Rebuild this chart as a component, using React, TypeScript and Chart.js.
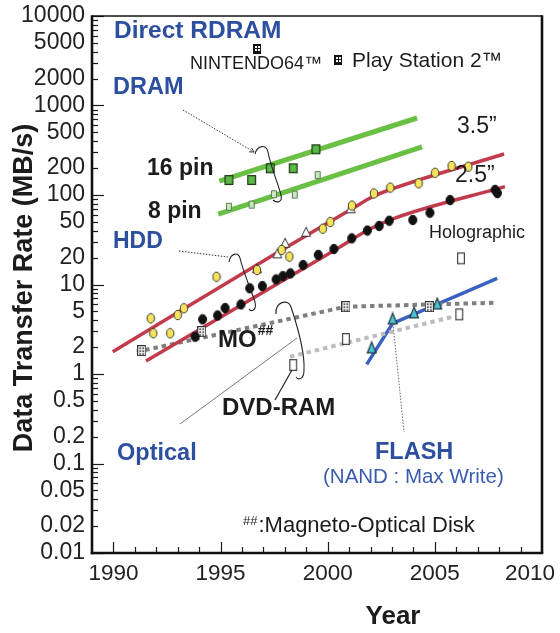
import { useEffect, useRef } from "react";
import { Chart, registerables } from "chart.js";

Chart.register(...registerables);

const FONT = '"Liberation Sans", Arial, Helvetica, sans-serif';
const BLUE = "#2d4f9f";
const INK = "#1c1c1c";

const xTickLabels = [1990, 1995, 2000, 2005, 2010];
const yTickLabels = [0.01, 0.02, 0.05, 0.1, 0.2, 0.5, 1, 2, 5, 10, 20, 50, 100, 200, 500, 1000, 2000, 5000, 10000];

// DRAM
const dram16Years = [1995.39, 1996.45, 1997.32, 1998.39, 1999.45];
const dram16Rates = [147, 147, 199, 199, 324];
const dram8Years = [1995.39, 1996.45, 1997.49, 1998.46, 1999.53];
const dram8Rates = [74, 78, 102, 101, 167];
const dram16TrendYears = [1994.94, 2004.17];
const dram16TrendRates = [143, 725];
const dram8TrendYears = [1994.89, 2004.4];
const dram8TrendRates = [61, 344];

// Direct RDRAM (NINTENDO64, Play Station 2)
const rdramYears = [1996.7, 2000.48];
const rdramRates = [4280, 3220];

// HDD 3.5"
const hdd35Years = [1991.74, 1991.86, 1992.65, 1993.0, 1993.29, 1994.81, 1996.7, 1997.85, 1998.21, 1999.77, 2000.12, 2001.13, 2002.16, 2002.92, 2004.24, 2005.01, 2005.78, 2006.56];
const hdd35Rates = [4.19, 2.85, 2.85, 4.56, 5.42, 12.2, 14.5, 24.3, 20.5, 42.0, 49.9, 76.3, 104, 121, 135, 177, 211, 207];
const hddTriYears = [1996.7, 1997.65, 1998.01, 1998.99, 2001.07];
const hddTriRates = [15.2, 22.3, 29.3, 38.9, 71.0];
const hdd35TrendYears = [1989.97, 1997.54, 2001.04, 2002.07, 2003.14, 2008.23];
const hdd35TrendRates = [1.77, 21.9, 67.9, 95.0, 120, 287];

// HDD 2.5"
const hdd25Years = [1993.81, 1994.16, 1994.86, 1995.21, 1995.95, 1996.36, 1996.95, 1997.59, 1997.91, 1998.26, 1998.85, 1999.56, 2000.29, 2001.12, 2001.85, 2002.4, 2002.87, 2003.97, 2004.77, 2005.71, 2007.81, 2007.92];
const hdd25Rates = [2.61, 4.08, 4.51, 5.46, 5.98, 9.07, 9.62, 11.4, 12.4, 13.3, 16.5, 21.4, 24.9, 32.8, 40.1, 45.1, 51.6, 52.6, 63.4, 87.9, 114, 105];
const hdd25TrendYears = [1991.52, 2000.34, 2001.97, 2003.14, 2008.27];
const hdd25TrendRates = [1.4, 24.3, 41.7, 55.3, 124];

// Optical: MO, DVD-RAM, Holographic
const moYears = [1991.32, 1994.12, 2000.85, 2004.74];
const moRates = [1.82, 2.97, 5.65, 5.65];
const moTrendYears = [1991.09, 2000.85, 2007.9];
const moTrendRates = [1.77, 5.65, 6.26];
const dvdYears = [1998.39, 2000.85, 2006.14];
const dvdRates = [1.26, 2.46, 4.64];
const dvdTrendYears = [1998.24, 2005.86];
const dvdTrendRates = [1.56, 4.37];
const holoYears = [2006.22];
const holoRates = [19.6];

// FLASH (NAND: Max Write)
const flashYears = [2002.05, 2003.03, 2004.03, 2005.11];
const flashRates = [1.98, 4.17, 4.87, 6.13];
const flashTrendYears = [2001.82, 2003.03, 2007.91];
const flashTrendRates = [1.28, 3.68, 11.7];

function pts(xs: number[], ys: number[]) {
  return xs.map((x, i) => ({ x, y: ys[i] }));
}

function makeMarker(kind: string, w: number, h: number, fill: string, stroke: string, lw = 1) {
  const c = document.createElement("canvas");
  c.width = w + 2;
  c.height = h + 2;
  const ctx = c.getContext("2d")!;
  const cx = c.width / 2;
  const cy = c.height / 2;
  ctx.fillStyle = fill;
  ctx.strokeStyle = stroke;
  ctx.lineWidth = lw;
  ctx.beginPath();
  if (kind === "ellipse") {
    ctx.ellipse(cx, cy, w / 2 - lw / 2, h / 2 - lw / 2, 0, 0, Math.PI * 2);
  } else if (kind === "rect") {
    ctx.rect(cx - w / 2 + lw / 2, cy - h / 2 + lw / 2, w - lw, h - lw);
  } else {
    ctx.moveTo(cx, cy - h / 2 + lw / 2);
    ctx.lineTo(cx + w / 2 - lw / 2, cy + h / 2 - lw / 2);
    ctx.lineTo(cx - w / 2 + lw / 2, cy + h / 2 - lw / 2);
    ctx.closePath();
  }
  ctx.fill();
  if (stroke) ctx.stroke();
  return c;
}

function makeChecker(w: number, h: number, bg: string, dot: string, border: string) {
  const c = document.createElement("canvas");
  c.width = w;
  c.height = h;
  const ctx = c.getContext("2d")!;
  ctx.fillStyle = bg;
  ctx.fillRect(0, 0, w, h);
  ctx.fillStyle = dot;
  for (let yy = 2; yy < h - 2; yy += 3) {
    for (let xx = 2; xx < w - 2; xx += 3) {
      ctx.fillRect(xx, yy, 2, 2);
    }
  }
  ctx.strokeStyle = border;
  ctx.lineWidth = 1;
  ctx.strokeRect(0.5, 0.5, w - 1, h - 1);
  return c;
}

function drawText(ctx: CanvasRenderingContext2D, s: string, x: number, y: number, font: string, color: string, align: CanvasTextAlign = "left") {
  ctx.font = font;
  ctx.fillStyle = color;
  ctx.textAlign = align;
  ctx.textBaseline = "middle";
  ctx.fillText(s, x, y);
  return ctx.measureText(s).width;
}

function seg(ctx: CanvasRenderingContext2D, x1: number, y1: number, x2: number, y2: number) {
  ctx.beginPath();
  ctx.moveTo(x1, y1);
  ctx.lineTo(x2, y2);
  ctx.stroke();
}

function arrowHead(ctx: CanvasRenderingContext2D, x1: number, y1: number, x2: number, y2: number) {
  const a = Math.atan2(y2 - y1, x2 - x1);
  const l = 5;
  ctx.beginPath();
  ctx.moveTo(x2 - l * Math.cos(a - 0.5), y2 - l * Math.sin(a - 0.5));
  ctx.lineTo(x2, y2);
  ctx.lineTo(x2 - l * Math.cos(a + 0.5), y2 - l * Math.sin(a + 0.5));
  ctx.stroke();
}

const overlayPlugin = {
  id: "overlay",
  afterDatasetsDraw(chart: any) {
    const ctx: CanvasRenderingContext2D = chart.ctx;
    const ca = chart.chartArea;
    const xs = chart.scales.x;
    const ys = chart.scales.y;
    ctx.save();

    // inside tick marks
    ctx.strokeStyle = INK;
    ctx.lineWidth = 1.2;
    ctx.setLineDash([]);
    for (let e = -2; e <= 4; e++) {
      for (let m = 1; m <= 9; m++) {
        const v = m * Math.pow(10, e);
        if (v > 10000.0001) break;
        const py = Math.round(ys.getPixelForValue(v)) + 0.5;
        seg(ctx, ca.left, py, ca.left + (m === 1 ? 12 : 6), py);
      }
    }
    for (let yr = 1990; yr < 2010; yr++) {
      const px = Math.round(xs.getPixelForValue(yr)) + 0.5;
      seg(ctx, px, ca.bottom, px, ca.bottom - (yr % 5 === 0 ? 11 : 6));
    }

    // frame
    ctx.strokeStyle = "#111";
    ctx.lineWidth = 1.6;
    seg(ctx, ca.left, ca.top, ca.right, ca.top);
    ctx.lineWidth = 2.6;
    seg(ctx, ca.right, ca.top - 0.8, ca.right, ca.bottom);
    seg(ctx, ca.left, ca.top - 0.8, ca.left, ca.bottom + 1.3);
    seg(ctx, ca.left - 1.3, ca.bottom, ca.right + 1.3, ca.bottom);

    // x tick labels
    const W = chart.width;
    ctx.font = `22.5px ${FONT}`;
    for (const v of xTickLabels) {
      let px = xs.getPixelForValue(v);
      const w = ctx.measureText(String(v)).width;
      if (px + w / 2 > W - 5) px = W - 5 - w / 2;
      drawText(ctx, String(v), px, ca.bottom + 21, `22.5px ${FONT}`, "#222", "center");
    }

    // axis titles
    drawText(ctx, "Year", 393, 617, `bold 26px ${FONT}`, INK, "center");
    ctx.save();
    ctx.translate(25, 288);
    ctx.rotate(-Math.PI / 2);
    drawText(ctx, "Data Transfer Rate (MB/s)", 0, 0, `bold 27px ${FONT}`, INK, "center");
    ctx.restore();

    // annotations
    const B = (s: number) => `bold ${s}px ${FONT}`;
    const R = (s: number) => `${s}px ${FONT}`;
    drawText(ctx, "Direct RDRAM", 114, 31, B(24.5), BLUE);
    drawText(ctx, "NINTENDO64\u2122", 190, 64.5, R(18), INK);
    drawText(ctx, "Play Station 2\u2122", 352, 61.5, R(21), INK);
    drawText(ctx, "DRAM", 113, 88, B(23.5), BLUE);
    drawText(ctx, "16 pin", 147, 169, B(23), INK);
    drawText(ctx, "8 pin", 148, 212, B(23), INK);
    drawText(ctx, "3.5\u201D", 457, 127, R(23), INK);
    drawText(ctx, "2.5\u201D", 455, 176, R(23), INK);
    drawText(ctx, "HDD", 113, 242, B(23), BLUE);
    drawText(ctx, "Holographic", 429, 233, R(18), INK);
    const moW = drawText(ctx, "MO", 218, 340, B(24), INK);
    drawText(ctx, "##", 218 + moW + 1, 331, B(14), INK);
    drawText(ctx, "DVD-RAM", 222, 408, B(24), INK);
    drawText(ctx, "Optical", 117, 454, B(23.5), BLUE);
    drawText(ctx, "FLASH", 375, 453, B(23.5), BLUE);
    drawText(ctx, "(NAND : Max Write)", 323, 477.5, R(20.5), "#3a5cb0");
    const hw = drawText(ctx, "##", 243, 521, R(13), INK);
    drawText(ctx, ":Magneto-Optical Disk", 243 + hw + 1, 525.5, R(22), INK);

    // callouts
    ctx.strokeStyle = "#333";
    ctx.lineWidth = 1;
    ctx.setLineDash([1.5, 1.5]);
    seg(ctx, 183, 110, 254, 152);
    seg(ctx, 179, 251, 228, 257);
    ctx.strokeStyle = "#666";
    seg(ctx, 393, 324, 404, 432);
    ctx.setLineDash([]);
    ctx.strokeStyle = "#333";
    arrowHead(ctx, 183, 110, 254, 152);
    ctx.strokeStyle = "#555";
    ctx.lineWidth = 0.8;
    seg(ctx, 180, 424, 297, 338);
    ctx.strokeStyle = "#222";
    ctx.lineWidth = 1.2;
    seg(ctx, 275, 400, 292, 370);

    ctx.lineWidth = 1.1;
    ctx.beginPath();
    ctx.moveTo(255, 154);
    ctx.bezierCurveTo(257, 146, 266, 143, 268, 152);
    ctx.bezierCurveTo(271, 168, 279, 186, 281, 195);
    ctx.bezierCurveTo(283, 203, 276, 203, 273, 200);
    ctx.stroke();

    ctx.beginPath();
    ctx.moveTo(229, 262);
    ctx.bezierCurveTo(230, 254, 238, 251, 240, 258);
    ctx.bezierCurveTo(243, 272, 252, 292, 255, 302);
    ctx.bezierCurveTo(257, 311, 251, 312, 249, 309);
    ctx.stroke();

    ctx.beginPath();
    ctx.moveTo(276, 314);
    ctx.bezierCurveTo(275, 302, 288, 298, 291, 307);
    ctx.bezierCurveTo(297, 325, 305, 352, 304, 370);
    ctx.bezierCurveTo(304, 380, 298, 380, 296, 377);
    ctx.stroke();

    ctx.restore();
  },
};

export default function App() {
  const ref = useRef<HTMLCanvasElement>(null);

  useEffect(() => {
    const canvas = ref.current!;
    const green = "#6abf45";
    const red = "#c23b4c";
    const yellowM = makeMarker("ellipse", 8.5, 10.5, "#f5e35e", "#3a3a2a", 1);
    const blackM = makeMarker("ellipse", 9, 10.5, "#111", "#111", 1);
    const whiteTri = makeMarker("tri", 10, 10, "#ffffff", "#333", 1);
    const cyanTri = makeMarker("tri", 10, 12, "#4ec4d3", "#1d3344", 1.2);
    const dram16M = makeMarker("rect", 9, 10, "#5cb848", "#1e3a14", 1.2);
    const dram8M = makeMarker("rect", 6, 8, "#c8e6c0", "#5b7a52", 1);
    const dvdM = makeMarker("rect", 8, 12, "#ffffff", "#444", 1.2);
    const moM = makeChecker(9, 11, "#ffffff", "#666", "#333");
    const rdM = makeChecker(8, 10, "#111", "#ffffff", "#111");

    const line = (data: any, color: string, width: number, extra: any = {}) => ({
      data,
      showLine: true,
      pointRadius: 0,
      borderColor: color,
      borderWidth: width,
      fill: false,
      order: 2,
      ...extra,
    });
    const marks = (data: any, img: HTMLCanvasElement) => ({
      data,
      showLine: false,
      pointRadius: 5,
      pointStyle: img,
      order: 1,
    });

    const chart = new Chart(canvas, {
      type: "scatter",
      data: {
        datasets: [
          line(pts(dram16TrendYears, dram16TrendRates), green, 5),
          line(pts(dram8TrendYears, dram8TrendRates), green, 5),
          line(pts(hdd35TrendYears, hdd35TrendRates), red, 3.5, { cubicInterpolationMode: "monotone" }),
          line(pts(hdd25TrendYears, hdd25TrendRates), red, 3.5, { cubicInterpolationMode: "monotone" }),
          line(pts(moTrendYears, moTrendRates), "#7f7f7f", 4, { borderDash: [4.5, 4] }),
          line(pts(dvdTrendYears, dvdTrendRates), "#bdbdbd", 4, { borderDash: [4.5, 4] }),
          line(pts(flashTrendYears, flashTrendRates), "#3a60c0", 3.5),
          marks(pts(dram16Years, dram16Rates), dram16M),
          marks(pts(dram8Years, dram8Rates), dram8M),
          marks(pts(hdd25Years, hdd25Rates), blackM),
          marks(pts(hdd35Years, hdd35Rates), yellowM),
          marks(pts(hddTriYears, hddTriRates), whiteTri),
          marks(pts(moYears, moRates), moM),
          marks(pts(dvdYears, dvdRates), dvdM),
          marks(pts(holoYears, holoRates), dvdM),
          marks(pts(flashYears, flashRates), cyanTri),
          marks(pts(rdramYears, rdramRates), rdM),
        ],
      },
      options: {
        animation: false,
        responsive: false,
        devicePixelRatio: 1,
        events: [],
        layout: { padding: { top: 16, right: 18, left: 0, bottom: 0 } },
        plugins: { legend: { display: false }, tooltip: { enabled: false } },
        scales: {
          x: {
            type: "linear",
            min: 1989,
            max: 2010,
            grid: { display: false, drawTicks: false },
            border: { display: false },
            ticks: { display: false, stepSize: 1 },
            afterFit: (s: any) => {
              s.height = 80;
              s.paddingLeft = 0;
              s.paddingRight = 0;
            },
          },
          y: {
            type: "logarithmic",
            min: 0.01,
            max: 10000,
            grid: { display: false, drawTicks: false },
            border: { display: false },
            ticks: {
              autoSkip: false,
              padding: 7,
              color: "#222",
              font: { family: FONT, size: 23 },
              callback: (v: any) => {
                const n = Number(v);
                const t = yTickLabels.find((q) => Math.abs(n - q) / q < 1e-6);
                return t === undefined ? "" : String(t);
              },
            },
            afterFit: (s: any) => {
              s.width = 92;
              s.paddingTop = 0;
              s.paddingBottom = 0;
            },
          },
        },
      } as any,
      plugins: [overlayPlugin],
    });
    return () => chart.destroy();
  }, []);

  return (
    <div style={{ position: "fixed", left: 0, top: 0, width: 560, height: 633, background: "#fff" }}>
      <canvas ref={ref} width={560} height={633} style={{ display: "block", width: 560, height: 633 }} />
    </div>
  );
}
